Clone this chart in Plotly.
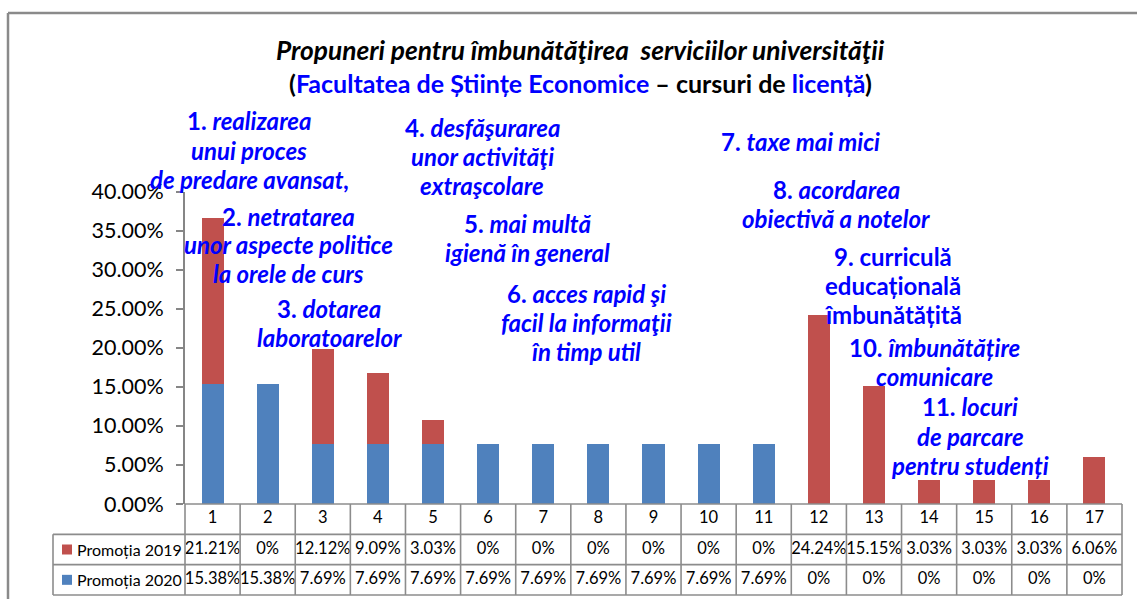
import plotly.graph_objects as go

# ---------------- data ----------------
categories = list(range(1, 18))
promotia_2019 = [21.21, 0, 12.12, 9.09, 3.03, 0, 0, 0, 0, 0, 0, 24.24, 15.15, 3.03, 3.03, 3.03, 6.06]
promotia_2020 = [15.38, 15.38, 7.69, 7.69, 7.69, 7.69, 7.69, 7.69, 7.69, 7.69, 7.69, 0, 0, 0, 0, 0, 0]
series_names = ["Promoția 2019", "Promoția 2020"]
y_tick_values = [0, 0.05, 0.10, 0.15, 0.20, 0.25, 0.30, 0.35, 0.40]

title_line1 = "Propuneri pentru îmbunătăţirea&nbsp; serviciilor universităţii"
title_line2_parts = [("(", "black"), ("Facultatea de Științe Economice", "blue"),
                     (" – cursuri de ", "black"), ("licență", "blue"), (")", "black")]

# proposal labels: (number, lines, whole_upright)
proposals = [
    ("1.", ["realizarea", "unui proces", "de predare avansat,"], False),
    ("2.", ["netratarea", "unor aspecte politice", "la orele de curs"], False),
    ("3.", ["dotarea", "laboratoarelor"], False),
    ("4.", ["desfăşurarea", "unor activităţi", "extraşcolare"], False),
    ("5.", ["mai multă", "igienă în general"], False),
    ("6.", ["acces rapid şi", "facil la informaţii", "în timp util"], False),
    ("7.", ["taxe mai mici"], False),
    ("8.", ["acordarea", "obiectivă a notelor"], False),
    ("9.", ["curriculă", "educațională", "îmbunătățită"], True),
    ("10.", ["îmbunătățire", "comunicare"], False),
    ("11.", ["locuri", "de parcare", "pentru studenți"], False),
]
# label layout (pixel centre x of block, centre y of first line)
label_pos = [(249, 121), (288, 216), (329, 308), (482, 127), (527, 223), (586, 293),
             (800, 142), (836, 189), (893, 256), (934, 347), (970, 407)]
LINE_STEP = 29

# ---------------- style / layout ----------------
W, H = 1137, 599
RED = "#C0504D"
BLUE = "#4F81BD"
TXT_BLUE = "#0000FF"
GRID = "#8C8C8C"
FONT = "Lato"

PLOT_L, PLOT_R = 185, 1122
PLOT_T, PLOT_B = 191.5, 504
TABLE_L, TABLE_B = 53, 595


def px(x):
    return x / W


def py(y):
    return 1 - y / H


n = len(categories)
col_w = (PLOT_R - PLOT_L) / n
x_left = 0.5 - (PLOT_L - TABLE_L) / col_w
x_right = n + 0.5
nrows = 3
row_h = (TABLE_B - PLOT_B) / nrows
PAD = 2.0
pad_x = PAD / col_w
pad_y = PAD / row_h

fig = go.Figure()

# stacked bars
fig.add_trace(go.Bar(x=categories, y=[v / 100 for v in promotia_2020], name=series_names[1],
                     marker=dict(color=BLUE, line=dict(width=0)), xaxis="x", yaxis="y"))
fig.add_trace(go.Bar(x=categories, y=[v / 100 for v in promotia_2019], name=series_names[0],
                     marker=dict(color=RED, line=dict(width=0)), xaxis="x", yaxis="y"))


def fmt(v):
    return "0%" if v == 0 else f"{v:.2f}%"


# data table text
tx, ty, tt = [], [], []
for i, c in enumerate(categories):
    tx += [c, c, c]
    ty += [0.5, 1.5, 2.5]
    tt += [str(c), fmt(promotia_2019[i]), fmt(promotia_2020[i])]
fig.add_trace(go.Scatter(x=tx, y=ty, text=tt, mode="text", textposition="middle center",
                         textfont=dict(family=FONT, size=16.5, color="black"),
                         xaxis="x2", yaxis="y2", hoverinfo="skip"))

# legend keys in table
key_x = x_left + (67 - TABLE_L) / col_w
fig.add_trace(go.Scatter(x=[key_x, key_x], y=[1.5, 2.5], mode="markers",
                         marker=dict(symbol="square", size=10, color=[RED, BLUE]),
                         xaxis="x2", yaxis="y2", hoverinfo="skip"))

annotations = []
for k, name in enumerate(series_names):
    annotations.append(dict(x=x_left + (75 - TABLE_L) / col_w, y=1.5 + k, xref="x2", yref="y2",
                            text=name, showarrow=False, xanchor="left", yanchor="middle",
                            font=dict(family=FONT, size=16, color="black")))

# table grid
shapes = []
lc = dict(color=GRID, width=1.6)
for k in range(n + 1):
    xv = 0.5 + k
    shapes.append(dict(type="line", xref="x2", yref="y2", x0=xv, x1=xv, y0=0, y1=nrows, line=lc))
shapes.append(dict(type="line", xref="x2", yref="y2", x0=x_left, x1=x_left, y0=1, y1=nrows, line=lc))
shapes.append(dict(type="line", xref="x2", yref="y2", x0=0.5, x1=x_right, y0=0, y1=0, line=lc))
for r in range(1, nrows + 1):
    shapes.append(dict(type="line", xref="x2", yref="y2", x0=x_left, x1=x_right, y0=r, y1=r, line=lc))

# outer chart border
border = dict(color="#8A8A8A", width=2.5)
shapes.append(dict(type="line", xref="paper", yref="paper", x0=px(8), x1=px(8), y0=py(H + 5), y1=py(13), line=border))
shapes.append(dict(type="line", xref="paper", yref="paper", x0=px(8), x1=px(W + 5), y0=py(13), y1=py(13), line=border))

# title
annotations.append(dict(x=px(580), y=py(50), xref="paper", yref="paper", showarrow=False,
                        text=f"<b><i>{title_line1}</i></b>", xanchor="center", yanchor="middle",
                        font=dict(family=FONT, size=26.3, color="black")))
t2 = "".join(
    f"<span style='color:{TXT_BLUE if c == 'blue' else 'black'}'>{s}</span>" for s, c in title_line2_parts)
annotations.append(dict(x=px(580), y=py(83), xref="paper", yref="paper", showarrow=False,
                        text=f"<b>{t2}</b>", xanchor="center", yanchor="middle",
                        font=dict(family=FONT, size=25, color="black")))

# proposal labels
for (num, lines, upright), (cx, cy) in zip(proposals, label_pos):
    for j, line in enumerate(lines):
        body = line if upright else f"<i>{line}</i>"
        txt = f"<b>{num} {body}</b>" if j == 0 else f"<b>{body}</b>"
        annotations.append(dict(x=px(cx), y=py(cy + j * LINE_STEP), xref="paper", yref="paper",
                                showarrow=False, text=txt, xanchor="center", yanchor="middle",
                                font=dict(family=FONT, size=24, color=TXT_BLUE)))

fig.update_layout(
    template="none",
    width=W, height=H, autosize=False,
    margin=dict(l=0, r=0, t=0, b=0, pad=0, autoexpand=False),
    paper_bgcolor="white", plot_bgcolor="rgba(0,0,0,0)",
    barmode="stack", bargap=0.6,
    showlegend=False,
    xaxis=dict(domain=[px(PLOT_L), px(PLOT_R)], range=[0.5, n + 0.5], showticklabels=False,
               showgrid=False, zeroline=False, showline=False, ticks="", automargin=False),
    yaxis=dict(domain=[py(PLOT_B), py(PLOT_T)], range=[0, 0.40], tickvals=y_tick_values,
               tickformat=".2%", ticks="outside", ticklen=7, tickwidth=2, tickcolor="#868686",
               showline=True, linecolor="#868686", linewidth=2, showgrid=False, zeroline=False,
               tickfont=dict(family=FONT, size=21.5, color="black"), ticklabelstandoff=8,
               automargin=False),
    xaxis2=dict(domain=[px(TABLE_L - PAD), px(PLOT_R + PAD)], range=[x_left - pad_x, x_right + pad_x],
                anchor="y2", visible=False, automargin=False),
    yaxis2=dict(domain=[py(TABLE_B + PAD), py(PLOT_B - PAD)], range=[nrows + pad_y, -pad_y],
                anchor="x2", visible=False, automargin=False),
    annotations=annotations,
    shapes=shapes,
)

fig.write_html(
    "out.html",
    config={"displayModeBar": False, "responsive": False},
    post_script=("document.documentElement.style.margin='0px';"
                 "document.documentElement.style.overflow='hidden';"
                 "document.body.style.margin='0px';document.body.style.padding='0px';"
                 "document.body.style.overflow='hidden';"),
)
